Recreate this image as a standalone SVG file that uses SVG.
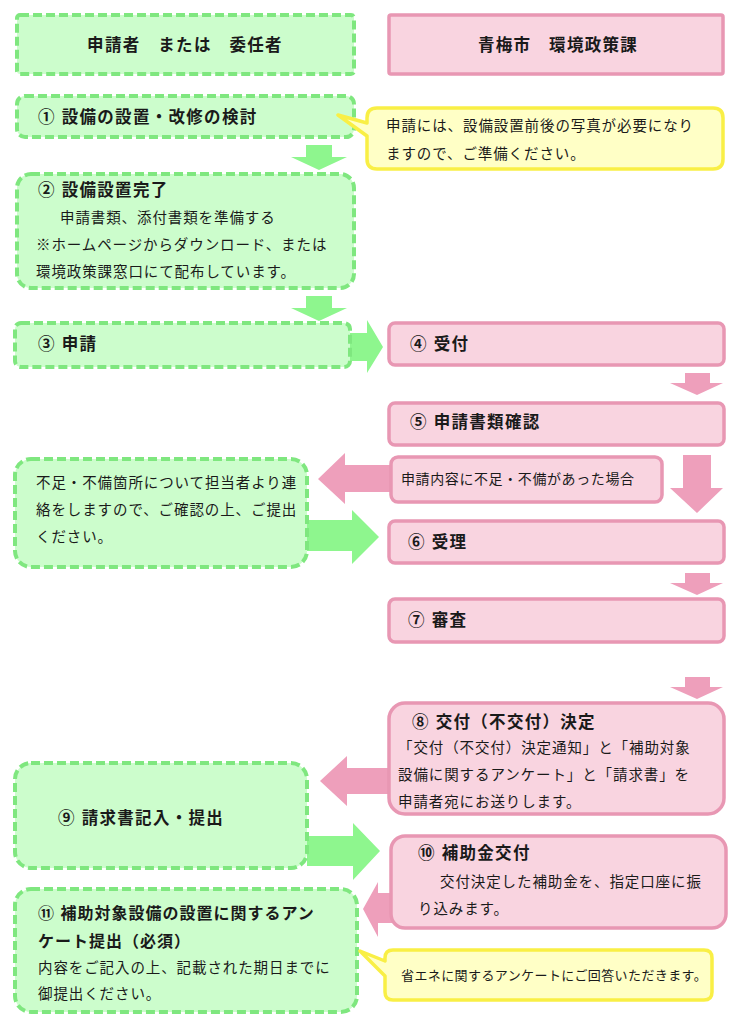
<svg xmlns="http://www.w3.org/2000/svg" width="743" height="1024" viewBox="0 0 743 1024">
<style>
.g{fill:#ccfdcc;stroke:#7fe77f;stroke-width:4;stroke-dasharray:9 4}
.p{fill:#f9d4e0;stroke:#e897b3;stroke-width:3.5}
.y{fill:#ffffc6;stroke:#f9ef45;stroke-width:3.5;stroke-linejoin:round}
.ga{fill:#8ef68e}
.pa{fill:#ee9fbb}
text{font-family:'Liberation Sans','Noto Sans CJK JP',sans-serif;fill:#1a1a1a}
.h{font-size:16.5px;font-weight:bold;letter-spacing:1.3px}
.h2{font-size:16px;font-weight:bold;letter-spacing:1px}
.b{font-size:14.5px;letter-spacing:0.9px}
.s{font-size:13px;letter-spacing:0.4px}
</style>
<rect width="743" height="1024" fill="#ffffff"/>
<g id="connectors">
<polygon class="ga" points="306,145 332,145 332,157 347,157 319,170 291,157 306,157"/>
<polygon class="ga" points="306,296 332,296 332,308 347,308 319,321 291,308 306,308"/>
<polygon class="ga" points="350,333 367,333 367,320 383,347 367,373 367,361 350,361"/>
<polygon class="pa" points="685,373 710,373 710,383 723,383 697,395 670,383 685,383"/>
<polygon class="pa" points="683,455 711,455 711,488 723,488 697,513 670,488 683,488"/>
<polygon class="pa" points="392,465 345,465 345,453 318,479 345,504 345,492 392,492"/>
<polygon class="ga" points="307,520 352,520 352,510 379,537 352,564 352,551 307,551"/>
<polygon class="pa" points="685,573 710,573 710,583 723,583 697,595 670,583 685,583"/>
<polygon class="pa" points="685,677 710,677 710,687 723,687 697,699 670,687 685,687"/>
<polygon class="pa" points="392,768 347,768 347,756 320,781 347,806 347,794 392,794"/>
<polygon class="ga" points="307,836 353,836 353,823 380,851 353,880 353,866 307,866"/>
<polygon class="pa" points="392,893 378,893 378,882 363,909 378,937 378,923 392,923"/>
</g>
<g id="header-applicant">
<rect class="g" x="17" y="15" width="337" height="59" rx="3"/>
<text class="h" x="185" y="51" text-anchor="middle">申請者　または　委任者</text>
</g>
<g id="header-city">
<rect class="p" x="389" y="15" width="334" height="59" rx="2"/>
<text class="h" x="558" y="51" text-anchor="middle">青梅市　環境政策課</text>
</g>
<g id="step1">
<rect class="g" x="17" y="96" width="337" height="41" rx="8"/>
<text class="h" x="38" y="123">① 設備の設置・改修の検討</text>
</g>
<g id="note-photo">
<path class="y" d="M377,108 H713 Q723,108 723,118 V159 Q723,169 713,169 H377 Q367,169 367,159 V136 L338,115 L367,123 V118 Q367,108 377,108 Z"/>
<text class="b" x="386" y="131">申請には、設備設置前後の写真が必要になり</text>
<text class="b" x="386" y="159">ますので、ご準備ください。</text>
</g>
<g id="step2">
<rect class="g" x="17" y="174" width="337" height="114" rx="14"/>
<text class="h" x="38" y="196">② 設備設置完了</text>
<text class="b" x="60" y="223">申請書類、添付書類を準備する</text>
<text class="b" x="36" y="250">※ホームページからダウンロード、または</text>
<text class="b" x="36" y="277">環境政策課窓口にて配布しています。</text>
</g>
<g id="step3">
<rect class="g" x="15" y="323" width="335" height="44" rx="6"/>
<text class="h" x="38" y="350">③ 申請</text>
</g>
<g id="step4">
<rect class="p" x="389" y="323" width="335" height="42" rx="6"/>
<text class="h" x="410" y="350">④ 受付</text>
</g>
<g id="step5">
<rect class="p" x="389" y="403" width="335" height="42" rx="6"/>
<text class="h" x="410" y="428">⑤ 申請書類確認</text>
</g>
<g id="deficiency">
<rect class="p" x="391" y="457" width="271" height="45" rx="7"/>
<text class="b" x="401" y="484" style="font-size:14px;letter-spacing:0.6px">申請内容に不足・不備があった場合</text>
</g>
<g id="contact">
<rect class="g" x="15" y="459" width="292" height="108" rx="16"/>
<text class="b" x="36" y="488">不足・不備箇所について担当者より連</text>
<text class="b" x="36" y="515">絡をしますので、ご確認の上、ご提出</text>
<text class="b" x="36" y="542">ください。</text>
</g>
<g id="step6">
<rect class="p" x="389" y="521" width="335" height="42" rx="6"/>
<text class="h" x="408" y="548">⑥ 受理</text>
</g>
<g id="step7">
<rect class="p" x="389" y="599" width="335" height="43" rx="6"/>
<text class="h" x="408" y="626">⑦ 審査</text>
</g>
<g id="step8">
<rect class="p" x="389" y="703" width="335" height="111" rx="16"/>
<text class="h" x="412" y="728">⑧ 交付（不交付）決定</text>
<text class="b" x="398" y="753">「交付（不交付）決定通知」と「補助対象</text>
<text class="b" x="398" y="780">設備に関するアンケート」と「請求書」を</text>
<text class="b" x="398" y="807">申請者宛にお送りします。</text>
</g>
<g id="step9">
<rect class="g" x="15" y="763" width="292" height="105" rx="16"/>
<text class="h" x="58" y="824">⑨ 請求書記入・提出</text>
</g>
<g id="step10">
<rect class="p" x="391" y="836" width="335" height="92" rx="14"/>
<text class="h" x="418" y="859">⑩ 補助金交付</text>
<text class="b" x="440" y="887">交付決定した補助金を、指定口座に振</text>
<text class="b" x="418" y="914">り込みます。</text>
</g>
<g id="step11">
<rect class="g" x="15" y="889" width="342" height="123" rx="16"/>
<text class="h2" x="38" y="919">⑪ 補助対象設備の設置に関するアン</text>
<text class="h2" x="38" y="947">ケート提出（必須）</text>
<text class="b" x="38" y="973">内容をご記入の上、記載された期日までに</text>
<text class="b" x="38" y="999">御提出ください。</text>
</g>
<g id="note-survey">
<path class="y" d="M393,950 H704 Q712,950 712,958 V992 Q712,1000 704,1000 H393 Q385,1000 385,992 V976 L360,951 L385,961 V958 Q385,950 393,950 Z"/>
<text class="s" x="401" y="980">省エネに関するアンケートにご回答いただきます。</text>
</g>
</svg>
